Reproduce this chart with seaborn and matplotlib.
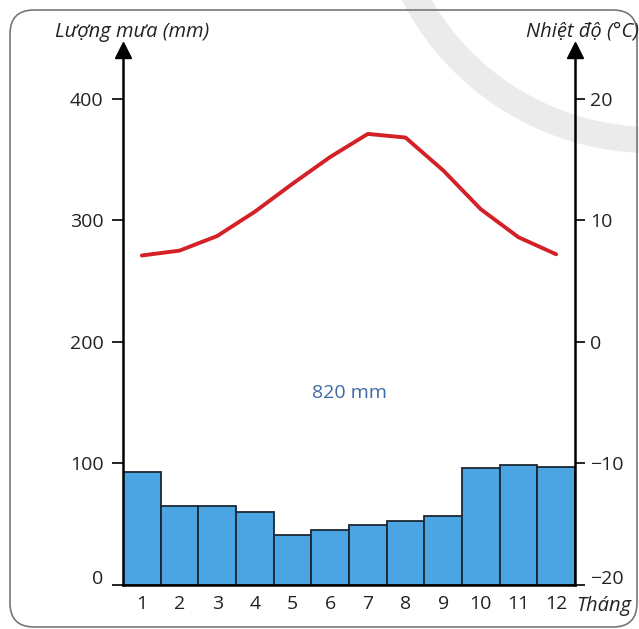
import matplotlib
matplotlib.use("Agg")
import matplotlib.pyplot as plt
import matplotlib.patches as mpatches
import matplotlib.transforms as mtransforms
import seaborn as sns
import pandas as pd
import numpy as np

months = ["1", "2", "3", "4", "5", "6", "7", "8", "9", "10", "11", "12"]
rain_mm = [93, 65, 65, 60, 41, 45, 49, 53, 57, 96, 99, 97]
temp_c = [7.1, 7.5, 8.7, 10.7, 13.0, 15.2, 17.1, 16.8, 14.1, 10.9, 8.6, 7.2]
rain_ticks = [0, 100, 200, 300, 400]
temp_ticks = [-20, -10, 0, 10, 20]
temp_labels = ["\u221220", "\u221210", "0", "10", "20"]
total_label = "820 mm"

sns.set_theme(style="white")
plt.rcParams["font.family"] = ["Open Sans", "DejaVu Sans"]

W, H = 639, 629
fig = plt.figure(figsize=(W / 100, H / 100), dpi=100)
fig.patch.set_facecolor("white")

# watermark arc (background decoration)
arc = mpatches.Circle((652, H + 128), 268, fill=False, edgecolor="#ebebeb",
                      linewidth=19, transform=None, zorder=-2)
fig.patches.append(arc)
# rounded frame
frame = mpatches.FancyBboxPatch((10, 2), 627, H - 12,
                                boxstyle="round,pad=0,rounding_size=24",
                                fill=False, edgecolor="#777777", linewidth=1.2,
                                transform=None, zorder=-1)
fig.patches.append(frame)

ax = fig.add_axes([123 / W, 1 - 585 / H, (575 - 123) / W, (585 - 50) / H])
ax.set_facecolor("none")

df = pd.DataFrame({"month": months, "rain": rain_mm})
sns.barplot(data=df, x="month", y="rain", order=months, width=1.0,
            color="#4ba5e2", saturation=1, edgecolor="#1b2733", linewidth=1.3,
            ax=ax, zorder=2)
ax.set_xlim(-0.5, 11.5)
ax.set_ylim(0, 440)
ax.set_xlabel("")
ax.set_ylabel("")

for s in ["top", "right"]:
    ax.spines[s].set_visible(False)
for s in ["left", "bottom"]:
    ax.spines[s].set_visible(True)
    ax.spines[s].set_color("black")
    ax.spines[s].set_linewidth(1.8)
    ax.spines[s].set_zorder(4)

ax.set_yticks(rain_ticks)
ax.set_yticklabels([str(v) for v in rain_ticks])
ax.tick_params(axis="y", left=True, length=8, width=1.2, color="black",
               pad=6, labelsize=14, labelcolor="#222222")
ax.tick_params(axis="x", bottom=False, length=0, pad=7, labelsize=14,
               labelcolor="#222222")

ax2 = ax.twinx()
ax2.set_facecolor("none")
tdf = pd.DataFrame({"x": np.arange(len(months)), "temp": temp_c})
sns.lineplot(data=tdf, x="x", y="temp", ax=ax2, color="#d42027",
             linewidth=2.8, zorder=3, solid_joinstyle="round",
             solid_capstyle="round")
ax2.set_ylim(-20, 24)
ax2.set_xlim(-0.5, 11.5)
ax2.set_ylabel("")
ax2.set_xlabel("")
for s in ["top", "left", "bottom"]:
    ax2.spines[s].set_visible(False)
ax2.spines["right"].set_visible(True)
ax2.spines["right"].set_color("black")
ax2.spines["right"].set_linewidth(1.8)
ax2.set_yticks(temp_ticks)
ax2.set_yticklabels(temp_labels)
ax2.tick_params(axis="y", right=True, length=7, width=1.2, color="black",
                pad=4, labelsize=14, labelcolor="#222222")

# lift the bottom tick labels a little, as in the reference
lift = mtransforms.ScaledTranslation(0, 6 / 72, fig.dpi_scale_trans)
for lab in (ax.get_yticklabels()[0], ax2.get_yticklabels()[0]):
    lab.set_transform(lab.get_transform() + lift)

# arrow heads on vertical axes
ax.plot([0], [1.0], marker="^", markersize=11, color="black",
        transform=ax.transAxes, clip_on=False, zorder=5)
ax.plot([1], [1.0], marker="^", markersize=11, color="black",
        transform=ax.transAxes, clip_on=False, zorder=5)

ax.text(5.5, 158, total_label, ha="center", va="center", fontsize=14,
        color="#3f6aa8")

fig.text(55 / W, 1 - 32 / H, "L\u01b0\u1ee3ng m\u01b0a (mm)", ha="left",
         va="center", fontsize=14.5, style="italic", color="#222222")
fig.text(639 / W, 1 - 32 / H, "Nhi\u1ec7t \u0111\u1ed9 (\u00b0C)", ha="right",
         va="center", fontsize=14.5, style="italic", color="#222222")
fig.text(604 / W, 1 - 606 / H, "Th\u00e1ng", ha="center", va="center",
         fontsize=14.5, style="italic", color="#222222")

fig.savefig("out.png", dpi=100, facecolor="white")
